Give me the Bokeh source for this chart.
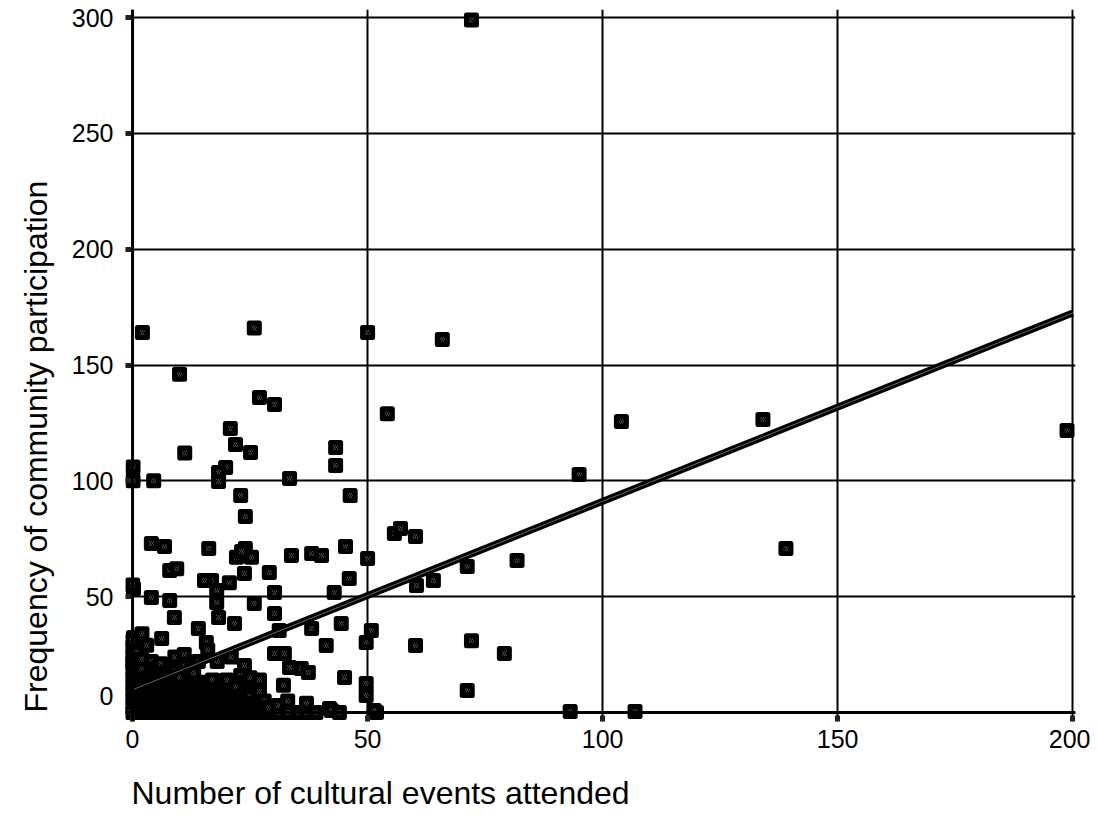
from bokeh.plotting import figure
from bokeh.models import Range1d, Span, Title, FixedTicker
from bokeh.embed import file_html
from bokeh.resources import INLINE

# --- scattered observations (cultural events attended, community participation)
spread_events = [72.1, 2.1, 25.9, 50.0, 65.9, 10.0, 27.0, 30.2, 54.2, 20.8,
                 21.9, 25.1, 11.1, 43.2, 43.2, 0.1, 0.1, 4.5, 19.8, 18.3,
                 18.3, 33.4, 23.0, 46.3, 24.0, 55.7, 57.0, 60.2, 104.0, 134.1,
                 198.8, 95.0, 139.0, 4.0, 6.8, 16.2, 24.0, 22.1, 25.3, 23.2,
                 33.8, 38.1, 40.2, 45.3, 50.0, 60.4, 64.0, 71.2, 81.8, 60.2,
                 72.1, 79.1, 71.2, 93.1, 106.9, 51.9, 49.7, 49.7, 49.7, 50.8]
spread_particip = [299, 164, 166, 164, 161, 146, 136, 133, 129, 122.6,
                   115.7, 112.2, 112, 114.4, 106.6, 106, 100, 100, 105.8, 103.6,
                   99.7, 101, 93.7, 93.7, 84.6, 77.3, 79.4, 76, 125.6, 126.5,
                   121.7, 102.7, 70.8, 73, 71.7, 70.8, 70.8, 67, 67, 69.5,
                   67.8, 68.6, 67.8, 71.7, 66.5, 54.8, 57, 63, 65.6, 28.9,
                   31, 25.5, 9.5, 0.4, 0.4, 0, 7.3, 12.5, 30.2, 35.4]

mid_events = [16.8, 20.6, 17.9, 23.8, 29.1, 30.2, 25.9, 17.9, 42.9, 46.1,
              18.3, 21.7, 30.2, 31.2, 38.1, 44.4, 41.2, 15.7, 30.2, 32.3,
              33.4, 35.9, 37.4, 23.8, 45.1, 32.1, 51.4, 41.9, 34.2, 35.3,
              29.5, 7.9, 9.4, 15.3, 4.0, 7.9, 8.9, 14.0, 0.2, 6.2,
              0.2, 0.0, 0.0, 0.0, 28.1, 42.3]
mid_particip = [57, 56, 52.7, 60, 60.4, 51.8, 47, 47.5, 51.8, 57.8,
                41, 38.4, 42.7, 35.4, 36.3, 38.4, 28.9, 30.2, 25.5, 25.5,
                19.4, 19, 17.3, 20.3, 15.1, 11.7, 0.9, 1.7, 0, 0,
                0, 61.3, 62, 57, 49.6, 48.3, 41, 36.3, 32.4, 31.9,
                53.5, 55, 24.6, 22, 0, 0.9]

# --- dense group near the origin
cluster_events = [
    0, 0, 0, 0, 0, 0, 0, 0, 0, 0,
    1, 1, 1, 1, 1, 1, 1,
    2, 2, 2, 2, 2, 2, 2, 2,
    3, 3, 3, 3, 3, 3,
    4, 4, 4, 4, 4, 4, 4,
    5, 5, 5, 5, 5,
    6, 6, 6, 6, 6, 6,
    7, 7, 7, 7, 7,
    8, 8, 8, 8, 8,
    9, 9, 9, 9, 9, 9,
    10, 10, 10, 10,
    11, 11, 11, 11, 11, 11,
    12, 12, 12, 12,
    13, 13, 13, 13, 13, 13,
    14, 14, 14, 14, 14,
    15, 15, 15, 15,
    16, 16, 16, 16, 16,
    17, 17, 17, 17,
    18, 18, 18, 18, 18,
    19, 19, 19, 19,
    20, 20, 20, 20, 20,
    21, 21, 21, 21,
    22, 22, 22, 22,
    23, 23, 23, 23,
    24, 24, 24, 24,
    25, 25, 25, 25,
    26, 26, 26,
    27, 27, 27, 27,
    28, 28,
    29, 29,
    31, 31,
    33, 33,
    37, 37,
    39,
    44,
]
cluster_particip = [
    0, 3, 6, 9, 12, 15, 18, 21, 28, 31,
    0, 4, 8, 12, 16, 20, 26,
    0, 2, 5, 10, 14, 19, 23, 34,
    0, 3, 7, 11, 15, 29,
    0, 2, 6, 10, 13, 17, 22,
    0, 4, 8, 12, 19,
    0, 2, 6, 10, 15, 21,
    0, 3, 8, 13, 17,
    0, 5, 10, 14, 20,
    0, 2, 7, 12, 18, 24,
    0, 4, 9, 15,
    0, 2, 6, 11, 20, 25,
    0, 4, 8, 13,
    0, 2, 6, 10, 14, 17,
    0, 3, 8, 12, 22,
    0, 5, 9, 13,
    0, 2, 7, 12, 27,
    0, 4, 9, 14,
    0, 2, 6, 10, 22,
    0, 4, 8, 12,
    0, 2, 6, 10, 14,
    0, 4, 8, 24,
    0, 2, 6, 11,
    0, 3, 7, 16,
    0, 5, 9, 13,
    0, 2, 8, 15,
    0, 4, 11,
    0, 2, 9, 14,
    0, 5,
    0, 2,
    0, 3,
    0, 5,
    0, 4,
    0,
    0,
]

trend_x = [0, 200]
trend_y = [9.8, 172.5]

x_ticks = [0, 50, 100, 150, 200]
y_ticks = [0, 50, 100, 150, 200, 250, 300]
y_label_override = {0: "0\n"}

x_title = "Number of cultural events attended"
y_title = "Frequency of community participation"

events = spread_events + mid_events + cluster_events
particip = spread_particip + mid_particip + cluster_particip
assert len(events) == len(particip)

FONT = "Liberation Sans"

p = figure(width=1090, height=832, output_backend="svg", toolbar_location=None,
           x_range=Range1d(-1.5, 200.6), y_range=Range1d(-3.9, 303.5),
           min_border_left=124, min_border_right=15, min_border_top=9,
           min_border_bottom=111)
p.outline_line_color = None
p.background_fill_color = "white"
p.border_fill_color = "white"

for g, ticks in ((p.xgrid, x_ticks), (p.ygrid, y_ticks)):
    g.ticker = FixedTicker(ticks=ticks)
    g.grid_line_color = "black"
    g.grid_line_width = 2
    g.grid_line_alpha = 1.0

for ax, ticks in ((p.xaxis, x_ticks), (p.yaxis, y_ticks)):
    ax.ticker = FixedTicker(ticks=ticks)
    ax.axis_line_color = None
    ax.major_tick_in = 6
    ax.major_tick_out = 0
    ax.major_tick_line_width = 5
    ax.major_tick_line_color = "#222222"
    ax.minor_tick_line_color = None
    ax.major_label_text_font = FONT
    ax.major_label_text_font_size = "25px"
    ax.major_label_text_color = "black"

p.xaxis.major_label_standoff = 8
p.yaxis.major_label_standoff = 12
p.yaxis.major_label_overrides = y_label_override

p.add_layout(Span(location=0, dimension="height", line_color="black", line_width=3))
p.add_layout(Span(location=0, dimension="width", line_color="black", line_width=3))

p.scatter(events, particip, marker="square", size=10, line_width=5,
          line_join="round", fill_color="black", line_color="black",
          hatch_pattern="/", hatch_color="#4d4d4d", hatch_scale=4, hatch_weight=1)

p.line(trend_x, trend_y, line_width=7, line_color="black")
p.line(trend_x, trend_y, line_width=1, line_color="#666666")

p.add_layout(Title(text=x_title, align="left", offset=6, standoff=44,
                   text_font=FONT, text_font_size="32px", text_font_style="normal",
                   text_color="black"), "below")
p.add_layout(Title(text=y_title, align="left", offset=9, standoff=30,
                   text_font=FONT, text_font_size="32px", text_font_style="normal",
                   text_color="black"), "left")

open("out.html", "w").write(file_html(p, INLINE))
